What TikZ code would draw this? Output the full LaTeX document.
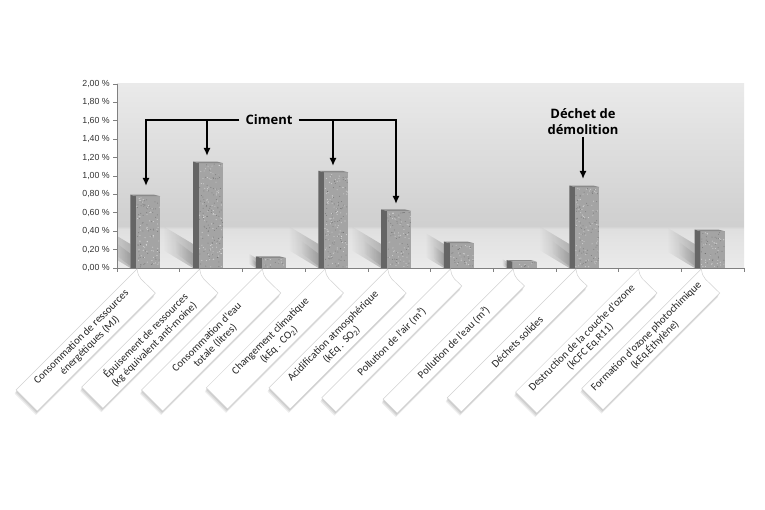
\documentclass[tikz,border=0pt]{standalone}
\usepackage{fontspec}
\setmainfont{Carlito}
\newfontfamily\axfont{Liberation Sans}
\newfontfamily\annfont{Open Sans}
\usetikzlibrary{arrows.meta,fadings}
\definecolor{bgA}{HTML}{EAEAEA}
\definecolor{bgB}{HTML}{E7E7E7}
\definecolor{bgC}{HTML}{E3E3E3}
\definecolor{bgD}{HTML}{DFDFDF}
\definecolor{bgE}{HTML}{D0D0D0}
\definecolor{bgF}{HTML}{D1D1D1}
\definecolor{bgG}{HTML}{D8D8D8}
\definecolor{bgH}{HTML}{E1E1E1}
\definecolor{bgI}{HTML}{EAEAEA}
\definecolor{barfront}{HTML}{A4A4A4}
\definecolor{barside}{HTML}{656565}
\definecolor{bartop}{HTML}{8A8A8A}
\pgfdeclareverticalshading{bgsh}{100bp}{color(0bp)=(bgA); color(25bp)=(bgA); color(28.5bp)=(bgB); color(32.6bp)=(bgC); color(35.6bp)=(bgD); color(36.4bp)=(bgE); color(39.4bp)=(bgF); color(48.9bp)=(bgG); color(62.5bp)=(bgH); color(75bp)=(bgI); color(100bp)=(bgI)}
\tikzfading[name=fadeleft, left color=transparent!100, right color=transparent!0]
% label box: #1 index k, #2 length, #3 width, #4 text
\newcommand\lbox[4]{%
  \pgfmathsetmacro\lbT{137+62.7*#1}%
  \pgfmathsetmacro\lbLx{\lbT-0.7071*#2}%
  \pgfmathsetmacro\lbLy{269+0.7071*#2}%
  \pgfmathsetmacro\lbRx{\lbT-2.83+0.7071*#3}%
  \pgfmathsetmacro\lbRy{269+2.83+0.7071*#3}%
  \pgfmathsetmacro\lbBx{\lbLx+0.7071*#3}%
  \pgfmathsetmacro\lbBy{\lbLy+0.7071*#3}%
  \pgfmathsetmacro\lbMx{\lbT-0.7071*(4+#2)/2+0.7071*#3/2}%
  \pgfmathsetmacro\lbMy{269+0.7071*(4+#2)/2+0.7071*#3/2}%
  \foreach \si in {1,2,3}{%
    \fill[black,opacity=0.07,shift={(-0.5*\si,1.3*\si)}] (\lbT,269) .. controls +(1,5) and +(-2.5,-2.5) .. (\lbT+4,279) -- (\lbRx,\lbRy) -- (\lbBx,\lbBy) -- (\lbLx,\lbLy) -- cycle;}
  \path[boxshape] (\lbT,269) .. controls +(1,5) and +(-2.5,-2.5) .. (\lbT+4,279) -- (\lbRx,\lbRy) -- (\lbBx,\lbBy) -- (\lbLx,\lbLy) -- cycle;
  \node[lbl,rotate=45] (lab#1) at (\lbMx,\lbMy) {#4};
}
\begin{document}
\begin{tikzpicture}[x=1pt,y=-1pt,
  axisline/.style={draw=black!50,line width=0.6pt},
  ylab/.style={font=\axfont\fontsize{8.8}{10}\selectfont, text=black!80, anchor=east, inner sep=0pt},
  ann/.style={font=\annfont\bfseries\fontsize{13}{16.5}\selectfont, text=black, align=center},
  arr/.style={line width=1.8pt, -{Latex[length=8pt,width=7pt]}},
  lbl/.style={font=\fontsize{10.8}{12}\selectfont, text=black!85, align=center, inner sep=0pt},
  boxshape/.style={fill=white, draw=black!18, line width=0.5pt}]
\useasboundingbox (0,0) rectangle (765,510);
\fill[white] (0,0) rectangle (765,510);
% plot background
\shade[shading=bgsh] (117,84) rectangle (744,268);
\pgfmathsetseed{7}
% floor shadows
\begin{scope}
\clip (117.5,84) rectangle (744,268);
\foreach \k/\v in {0/0.78,1/1.14,2/0.11,3/1.04,4/0.62,5/0.27,6/0.07,7/0.88,9/0.40}{
  \pgfmathsetmacro\bc{117+62.7*(\k+0.5)}
  \pgfmathsetmacro\bh{92*\v}
  \pgfmathsetmacro\bhs{min(\bh,24)}
  \pgfmathsetmacro\bd{min(\bh,40)*0.75}
  \fill[black,opacity=.22,path fading=fadeleft] (\bc-18,268) -- (\bc-18,268-\bhs) -- (\bc-18-\bd,268-\bhs-0.6*\bd) -- (\bc-18-\bd,268-0.6*\bd) -- cycle;
  \fill[black,opacity=.12,path fading=fadeleft] (\bc-18,266) -- (\bc-18,268-0.6*\bhs) -- (\bc-18-0.6*\bd,268-0.6*\bhs-0.45*\bd) -- (\bc-18-0.6*\bd,266-0.45*\bd) -- cycle;
}
\end{scope}
% axes
\draw[axisline] (117,84) -- (117,268) -- (744,268);
\foreach \i/\yt in {0/{0,00},1/{0,20},2/{0,40},3/{0,60},4/{0,80},5/{1,00},6/{1,20},7/{1,40},8/{1,60},9/{1,80},10/{2,00}}{
  \draw[axisline] (113,{268-18.4*\i}) -- (117,{268-18.4*\i});
  \node[ylab] (yl\i) at (110,{268-18.4*\i}) {\yt\ \%};
}
\foreach \k in {0,...,10}{
  \draw[axisline] ({117+62.7*\k},268) -- ({117+62.7*\k},272);
}
% bars
\foreach \k/\v in {0/0.78,1/1.14,2/0.11,3/1.04,4/0.62,5/0.27,6/0.07,7/0.88,9/0.40}{
  \pgfmathsetmacro\bc{117+62.7*(\k+0.5)}
  \pgfmathsetmacro\bt{268-92*\v}
  \pgfmathsetmacro\bh{92*\v}
  \fill[barside] (\bc-18,\bt-1.5) -- (\bc-12,\bt) -- (\bc-12,268) -- (\bc-18,268) -- cycle;
  \fill[barfront] (\bc-12,\bt) rectangle (\bc+12,268);
  \fill[bartop] (\bc-18,\bt-1.5) -- (\bc+6,\bt-1.5) -- (\bc+12,\bt) -- (\bc-12,\bt) -- cycle;
  \pgfmathtruncatemacro\bN{max(2,\bh*0.9)}
  \foreach \j in {1,...,\bN}{
    \fill[white,opacity=.5] ({\bc-11.5+23*rnd},{\bt+1+(\bh-2)*rnd}) circle[radius=0.55pt];
    \fill[black,opacity=.25] ({\bc-11.5+23*rnd},{\bt+1+(\bh-2)*rnd}) circle[radius=0.5pt];
  }
  \coordinate (bar\k) at (\bc,\bt);
}
% annotations
\node[ann,inner xsep=6pt] (ciment) at (269,120) {Ciment};
\coordinate (c1) at (146,186);
\coordinate (c2) at (207,156);
\coordinate (c3) at (333,166);
\coordinate (c4) at (396,204);
\draw[arr] (ciment.west) -| (c1);
\draw[arr] (ciment.east) -| (c4);
\draw[arr] (c2 |- ciment) -- (c2);
\draw[arr] (c3 |- ciment) -- (c3);
\node[ann,inner sep=2pt] (dechet) at (583,121.5) {Déchet de\\démolition};
\coordinate (d8) at (583,179);
\draw[arr] (dechet.south) -- (d8);
% category label boxes
\lbox{0}{171}{30}{Consommation de ressources\\énergétiques (MJ)}
\lbox{1}{167}{30}{Épuisement de ressources\\(kg équivalent anti-moine)}
\lbox{2}{171}{30}{Consommation d’eau\\totale (litres)}
\lbox{3}{168}{30}{Changement climatique\\(kEq . CO\textsubscript{2})}
\lbox{4}{168}{30}{Acidification atmosphérique\\(kEq . SO\textsubscript{2})}
\lbox{5}{182}{20}{Pollution de l’air (m³)}
\lbox{6}{184}{20}{Pollution de l’eau (m³)}
\lbox{7}{182}{20}{Déchets solides}
\lbox{8}{174}{30}{Destruction de la couche d’ozone\\(kCFC Eq.R11)}
\lbox{9}{169}{30}{Formation d’ozone photochimique\\(kEq.Éthylène)}
\end{tikzpicture}
\end{document}
